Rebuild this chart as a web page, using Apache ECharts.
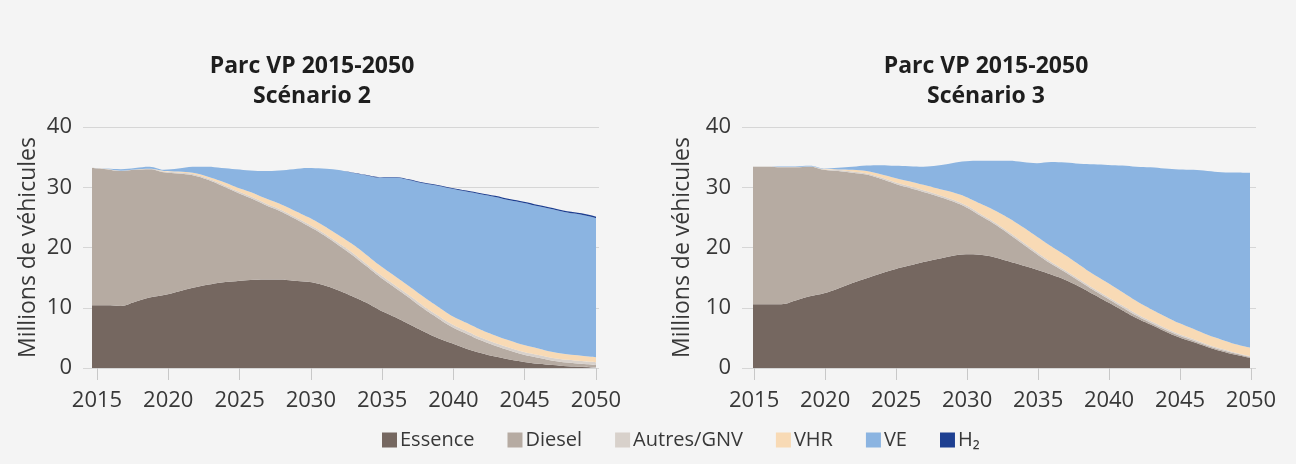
<!DOCTYPE html>
<html>
<head>
<meta charset="utf-8">
<script src="https://cdn.jsdelivr.net/npm/echarts@6/dist/echarts.min.js"></script>
<style>
  html, body { margin: 0; padding: 0; background: #f4f4f4; }
  #chart { width: 1296px; height: 464px; }
</style>
</head>
<body>
<div id="chart"></div>
<script>
var years = ['2015','2016','2017','2018','2019','2020','2021','2022','2023','2024','2025','2026','2027','2028','2029','2030','2031','2032',
             '2033','2034','2035','2036','2037','2038','2039','2040','2041','2042','2043','2044','2045','2046','2047','2048','2049','2050'];
var xTicks = [2015,2020,2025,2030,2035,2040,2045,2050];
var names = ['Essence','Diesel','Autres/GNV','VHR','VE','H\u2082'];

// Scénario 2 (millions de véhicules)
var essence2 = [10.4,10.4,10.3,11.0,11.7,12.1,12.7,13.3,13.8,14.2,14.4,14.6,14.7,14.7,14.5,14.3,13.8,13.0,
                12.0,10.9,9.6,8.5,7.3,6.1,5.0,4.1,3.2,2.5,1.9,1.4,1.0,0.7,0.5,0.3,0.2,0.1];
var diesel2 = [22.8,22.6,22.4,21.9,21.3,20.4,19.6,18.7,17.5,16.1,14.8,13.6,12.4,11.4,10.4,9.3,8.4,7.6,
               6.9,6.1,5.5,4.9,4.4,3.8,3.3,2.7,2.5,2.1,1.8,1.5,1.2,1.0,0.7,0.6,0.5,0.4];
var autres2 = [0.05,0.05,0.05,0.05,0.05,0.1,0.15,0.2,0.2,0.25,0.25,0.3,0.3,0.3,0.3,0.35,0.35,0.35,
               0.4,0.4,0.4,0.4,0.4,0.45,0.45,0.45,0.45,0.45,0.45,0.45,0.45,0.45,0.45,0.45,0.45,0.45];
var vhr2 = [0,0,0,0,0,0.1,0.15,0.2,0.3,0.45,0.6,0.7,0.8,0.9,1.0,1.1,1.2,1.3,
            1.4,1.5,1.5,1.5,1.5,1.5,1.45,1.4,1.35,1.3,1.25,1.2,1.15,1.1,1.0,0.95,0.9,0.85];
var ve2 = [0,0.05,0.25,0.25,0.35,0.2,0.5,1.0,1.6,2.2,2.95,3.6,4.5,5.5,6.8,8.15,9.35,10.65,
           11.75,13.1,14.6,16.3,17.6,18.8,20.05,21.1,21.8,22.5,23.0,23.3,23.6,23.6,23.7,23.5,23.4,23.1];
var h2_2 = [0,0,0,0,0,0,0,0,0,0,0,0,0,0,0,0,0,0,
            0.04,0.06,0.08,0.1,0.11,0.12,0.13,0.14,0.15,0.16,0.17,0.18,0.19,0.2,0.2,0.21,0.22,0.22];

// Scénario 3
var essence3 = [10.6,10.6,10.6,11.2,11.9,12.4,13.2,14.1,14.9,15.7,16.4,17.0,17.6,18.1,18.6,18.9,18.8,18.4,
                17.7,17.0,16.3,15.5,14.6,13.5,12.2,10.9,9.6,8.3,7.2,6.1,5.1,4.3,3.5,2.8,2.2,1.7];
var diesel3 = [22.8,22.8,22.7,22.1,21.5,20.5,19.5,18.3,17.2,15.7,14.2,12.9,11.6,10.4,9.1,7.8,6.5,5.5,
               4.6,3.6,2.6,1.8,1.3,0.9,0.7,0.6,0.5,0.4,0.3,0.3,0.3,0.25,0.2,0.2,0.2,0.15];
var autres3 = [0.05,0.05,0.05,0.05,0.05,0.1,0.15,0.2,0.2,0.25,0.25,0.3,0.3,0.3,0.3,0.3,0.3,0.3,
               0.3,0.3,0.3,0.3,0.3,0.3,0.3,0.3,0.3,0.3,0.3,0.3,0.25,0.25,0.2,0.2,0.15,0.15];
var vhr3 = [0,0,0,0,0,0.05,0.1,0.3,0.4,0.5,0.7,0.8,0.9,1.0,1.2,1.4,1.7,2.0,
            2.3,2.5,2.6,2.6,2.5,2.4,2.3,2.3,2.2,2.1,2.0,1.9,1.8,1.7,1.6,1.5,1.4,1.4];
var ve3 = [0,0,0.1,0.1,0.1,0.05,0.3,0.5,0.9,1.5,2.0,2.5,3.0,3.8,4.8,5.9,7.1,8.2,
           9.5,10.8,12.2,14.0,15.4,16.8,18.3,19.6,21.0,22.3,23.5,24.5,25.5,26.4,27.2,27.8,28.5,29.0];
var h2_3 = [0,0,0,0,0,0,0,0,0,0,0,0,0,0,0,0,0,0,
            0,0,0,0,0,0,0,0,0,0,0,0,0,0,0,0,0,0];

var colors = ['#756760','#b6aba2','#d8d1cb','#f8dab5','#8bb4e1','#1d3f91'];
var font = '"Open Sans", sans-serif';
var textColor = '#383838';

// each panel = a frame grid (gridlines, labels, ticks) + a data grid (the areas)
function makeSeries(idx, stack, list) {
    return list.map(function (arr, k) {
        return {
            name: names[k],
            type: 'line',
            xAxisIndex: idx,
            yAxisIndex: idx,
            stack: stack,
            smooth: 0.4,
            symbol: 'none',
            lineStyle: { width: 0 },
            itemStyle: { color: colors[k] },
            areaStyle: { color: colors[k], opacity: 1 },
            data: arr
        };
    });
}

function frameX(idx, min, max) {
    return {
        type: 'value',
        gridIndex: idx,
        min: min,
        max: max,
        axisLine: { show: false },
        splitLine: { show: false },
        axisTick: { show: true, customValues: xTicks, length: 12, lineStyle: { color: '#c8c8c8' } },
        axisLabel: {
            customValues: xTicks, margin: 22, fontSize: 22, color: textColor, fontFamily: font,
            formatter: function (v) { return String(v); }
        }
    };
}

function frameY(idx, gap) {
    return {
        type: 'value',
        gridIndex: idx,
        min: 0,
        max: 40,
        interval: 10,
        name: 'Millions de véhicules',
        nameLocation: 'middle',
        nameGap: gap,
        nameTextStyle: { fontSize: 23, color: textColor, fontFamily: font },
        axisLine: { show: false },
        axisTick: { show: false },
        axisLabel: { margin: 11, fontSize: 22, color: textColor, fontFamily: font },
        splitLine: { lineStyle: { color: '#d6d6d6', width: 1 } }
    };
}

function dataX(idx) {
    return { type: 'category', gridIndex: idx, data: years, boundaryGap: false, show: false };
}

function dataY(idx) {
    return { type: 'value', gridIndex: idx, min: 0, max: 40, show: false, splitLine: { show: false } };
}

var titleStyle = { fontSize: 23, fontWeight: 'bold', lineHeight: 30, color: '#1e1e1e', fontFamily: font };

var chart = echarts.init(document.getElementById('chart'));
chart.setOption({
    backgroundColor: '#f4f4f4',
    animation: false,
    title: [
        { text: 'Parc VP 2015-2050\nScénario 2', left: 307, top: 46, textAlign: 'center', textStyle: titleStyle },
        { text: 'Parc VP 2015-2050\nScénario 3', left: 981, top: 46, textAlign: 'center', textStyle: titleStyle }
    ],
    legend: {
        data: names,
        left: 377,
        top: 425,
        itemWidth: 15,
        itemHeight: 15,
        itemGap: 33,
        icon: 'rect',
        textStyle: { fontSize: 20, color: textColor, fontFamily: font, padding: [0, 0, 0, -2] }
    },
    grid: [
        { left: 83, top: 127, width: 516, height: 241 },
        { left: 92, top: 127, width: 504, height: 241 },
        { left: 742, top: 127, width: 514, height: 241 },
        { left: 753, top: 127, width: 497, height: 241 }
    ],
    xAxis: [frameX(0, 2014.02, 2050.21), dataX(1), frameX(2, 2014.15, 2050.35), dataX(3)],
    yAxis: [frameY(0, 43), dataY(1), frameY(2, 48), dataY(3)],
    series: makeSeries(1, 's2', [essence2, diesel2, autres2, vhr2, ve2, h2_2])
        .concat(makeSeries(3, 's3', [essence3, diesel3, autres3, vhr3, ve3, h2_3]))
});
</script>
</body>
</html>
